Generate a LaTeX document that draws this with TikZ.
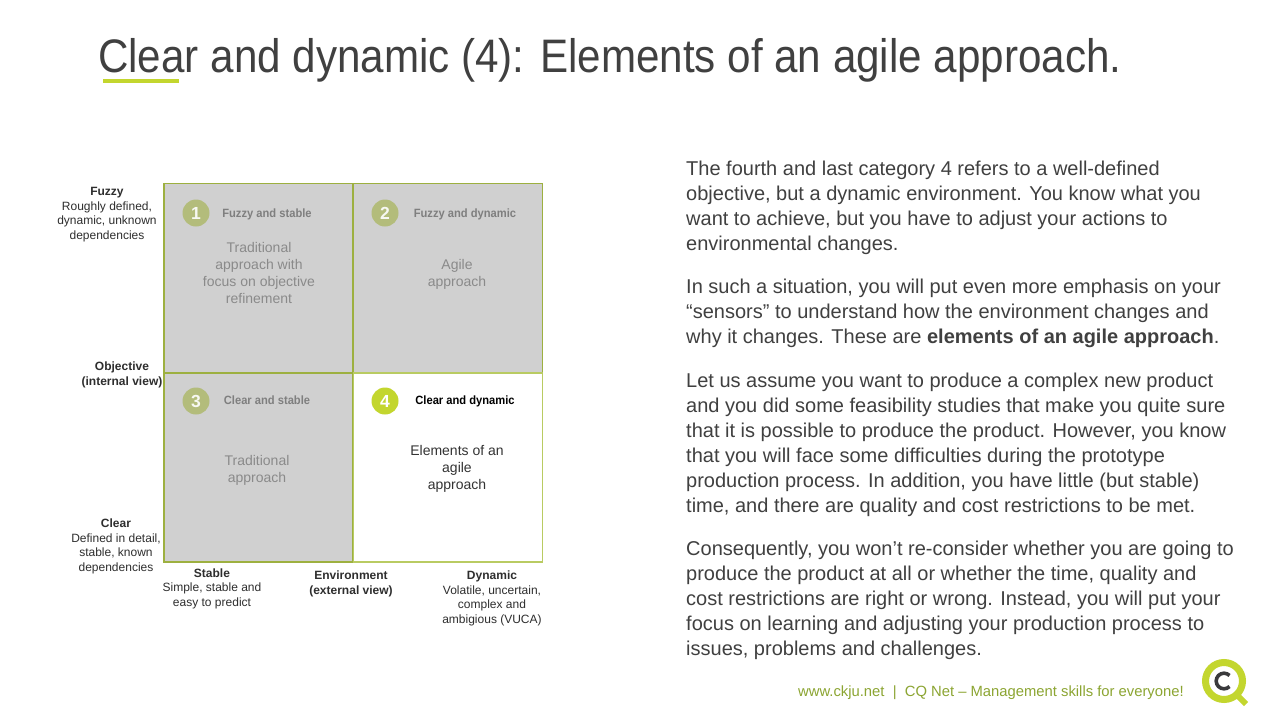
\documentclass[tikz,border=0pt]{standalone}
\usepackage{fontspec}
\setmainfont{Liberation Sans}
\newfontfamily\narrowfont{Liberation Sans}[FakeStretch=0.93]
\newfontfamily\titlefont{Liberation Sans}[FakeStretch=0.897]
\usepackage{tikz}
\usetikzlibrary{positioning,backgrounds}

\definecolor{titlegrey}{HTML}{404040}
\definecolor{cqgreen}{HTML}{C3D62E}
\definecolor{quadgrey}{HTML}{D0D0D0}
\definecolor{quadborder}{HTML}{9DB040}
\definecolor{quadlight}{HTML}{B9CB62}
\definecolor{mutedgreen}{HTML}{B3BC7B}
\definecolor{headgrey}{HTML}{7F7F7F}
\definecolor{bodygrey}{HTML}{8A8A8A}
\definecolor{footgreen}{HTML}{8CA532}
\definecolor{logodark}{HTML}{3A3A3C}

\tikzset{
  quad/.style={draw=quadborder, line width=1.7pt, fill=quadgrey,
    minimum width=189pt, minimum height=189pt, inner sep=0pt},
  numcirc/.style={circle, fill=mutedgreen, minimum size=27pt, inner sep=0pt,
    text=white!90!mutedgreen, font=\fontsize{17.5}{17.5}\selectfont\bfseries},
  quadhead/.style={anchor=base, text=headgrey, font=\narrowfont\fontsize{12}{14}\selectfont\bfseries},
  quadbody/.style={anchor=base, align=center, text=bodygrey, font=\fontsize{14}{17}\selectfont},
  axishead/.style={anchor=base, align=center, text=black!82, font=\fontsize{12}{14.5}\selectfont},
  para/.style={anchor=base west, align=left, text=titlegrey, inner sep=0pt,
    font=\fontsize{20}{25}\selectfont}
}

\begin{document}
\begin{tikzpicture}[x=1pt,y=-1pt]
\useasboundingbox[fill=white] (0,0) rectangle (1280,720);

% title
\node[anchor=base west, inner sep=0pt, text=titlegrey, font=\titlefont\fontsize{47}{50}\selectfont]
  (title) at (98,72) {Clear and dynamic (4): Elements of an agile approach.};
\fill[cqgreen] (103,79) rectangle (179,83);

% matrix
\node[quad] (q1) at (258.5,278) {};
\node[quad] (q3) at (258.5,467.5) {};
\node[quad] (q2) at (448,278) {};
\node[quad, fill=white, draw=quadlight] (q4) at (448,467.5) {};

\node[numcirc] (c1) at (196,213) {1};
\node[numcirc] (c2) at (385,213) {2};
\node[numcirc] (c3) at (196,401) {3};
\node[numcirc, fill=cqgreen, text=white] (c4) at (385,401) {4};

\node[quadhead] (h1) at (267,217) {Fuzzy and stable};
\node[quadhead] (h2) at (465,217) {Fuzzy and dynamic};
\node[quadhead] (h3) at (267,404) {Clear and stable};
\node[quadhead, text=black] (h4) at (465,404) {Clear and dynamic};

% multi-line nodes: base = last line
\node[quadbody] (b1) at (259,303) {Traditional\\approach with\\focus on objective\\refinement};
\node[quadbody] (b2) at (457,286) {Agile\\approach};
\node[quadbody] (b3) at (257,482) {Traditional\\approach};
\node[quadbody, text=black!80] (b4) at (457,489) {Elements of an\\agile\\approach};

% axis labels
\node[axishead] (fuzzy) at (107,239) {\textbf{Fuzzy}\\Roughly defined,\\dynamic, unknown\\dependencies};
\node[axishead] (objective) at (122,385) {\textbf{Objective}\\\textbf{(internal view)}};
\node[axishead] (clear) at (116,571) {\textbf{Clear}\\Defined in detail,\\stable, known\\dependencies};
\node[axishead] (stable) at (212,606) {\textbf{Stable}\\Simple, stable and\\easy to predict};
\node[axishead] (environment) at (351,594) {\textbf{Environment}\\\textbf{(external view)}};
\node[axishead] (dynamic) at (492,623) {\textbf{Dynamic}\\Volatile, uncertain,\\complex and\\ambigious (VUCA)};

% text
\node[para] (p1) at (686,250) {The fourth and last category 4 refers to a well-defined\\
objective, but a dynamic environment. You know what you\\
want to achieve, but you have to adjust your actions to\\
environmental changes.};
\node[para] (p2) at (686,343) {In such a situation, you will put even more emphasis on your\\
``sensors'' to understand how the environment changes and\\
why it changes. These are \textbf{elements of an agile approach}.};
\node[para] (p3) at (686,512) {Let us assume you want to produce a complex new product\\
and you did some feasibility studies that make you quite sure\\
that it is possible to produce the product. However, you know\\
that you will face some difficulties during the prototype\\
production process. In addition, you have little (but stable)\\
time, and there are quality and cost restrictions to be met.};
\node[para] (p4) at (686,655) {Consequently, you won't re-consider whether you are going to\\
produce the product at all or whether the time, quality and\\
cost restrictions are right or wrong. Instead, you will put your\\
focus on learning and adjusting your production process to\\
issues, problems and challenges.};

% footer
\node[anchor=base west, inner sep=0pt, text=footgreen, font=\fontsize{14.8}{16}\selectfont]
  (footer) at (798,696) {www.ckju.net~~|~~CQ Net -- Management skills for everyone!};
\node[circle, draw=cqgreen, line width=7pt, minimum size=37pt, inner sep=0pt] (logo) at (1224,681) {};
\draw[cqgreen, line width=6pt] (1236,694) -- (1246,704);
\draw[logodark, line width=3.6pt] ([shift={(45:7.8)}]logo.center) arc (45:315:7.8);
\end{tikzpicture}
\end{document}
